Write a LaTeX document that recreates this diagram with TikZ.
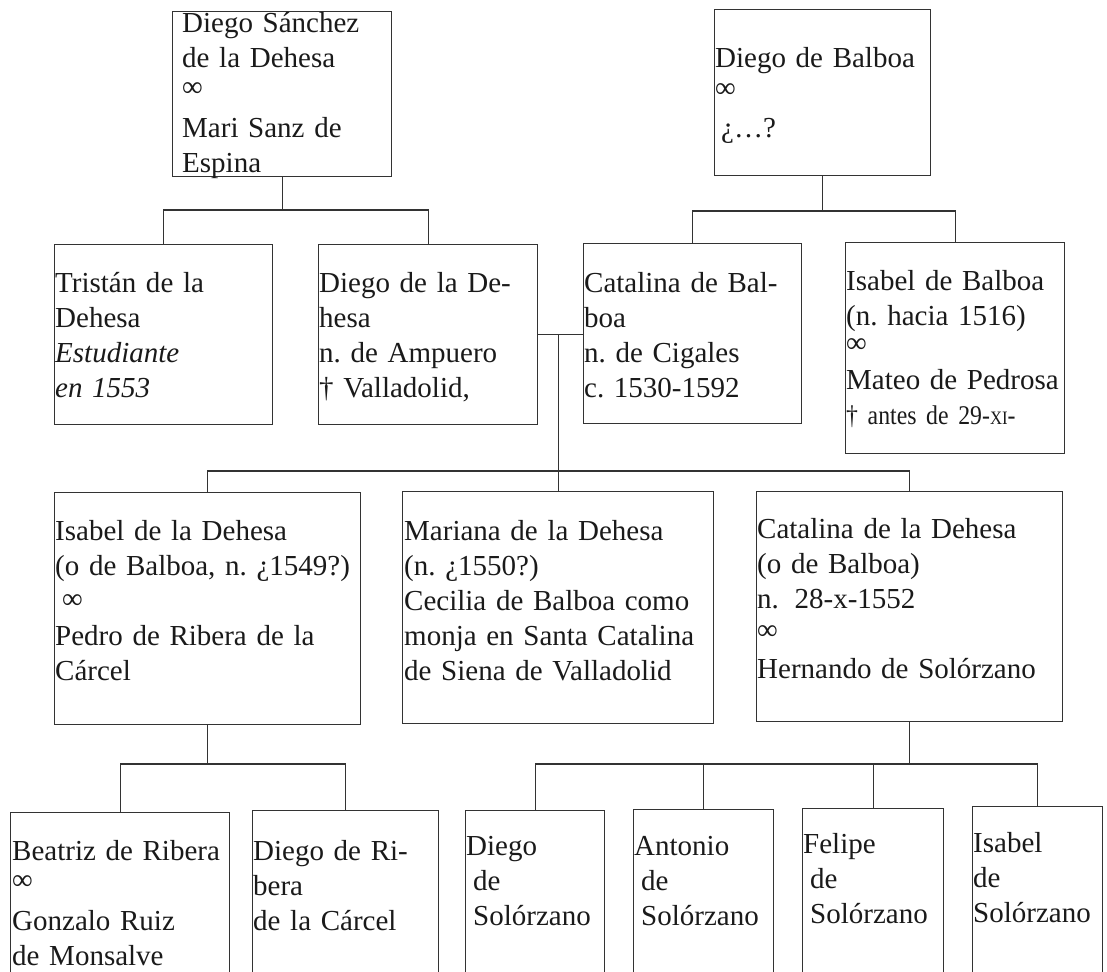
\documentclass[tikz,border=0pt]{standalone}
\usepackage{fontspec}
\setmainfont{Liberation Serif}
\newfontfamily\narrowfont[FakeStretch=0.88]{Liberation Serif}
\definecolor{linec}{HTML}{333333}
\definecolor{textc}{HTML}{1A1A1A}
\frenchspacing
\begin{document}
\begin{tikzpicture}[x=1pt,y=-1pt,
  box/.style={draw=linec, line width=1.1pt, rectangle, inner sep=0pt, anchor=north west},
  link/.style={draw=linec, line width=1.1pt},
  txt/.style={anchor=base west, inner sep=0pt, text width=320pt, align=left, text=textc,
              font=\fontsize{29}{35}\selectfont},
]
\useasboundingbox (0,0) rectangle (1107,971);
\fill[white] (0,0) rectangle (1107,971);
\clip (0,0) rectangle (1107,971);

% ---------- boxes ----------
\node[box, minimum width=219pt, minimum height=165pt] (A)    at (172,11)  {};
\node[box, minimum width=216pt, minimum height=166pt] (B)    at (714,9)   {};
\node[box, minimum width=218pt, minimum height=180pt] (tri)  at (54,244)  {};
\node[box, minimum width=219pt, minimum height=180pt] (dieD) at (318,244) {};
\node[box, minimum width=218pt, minimum height=180pt] (catB) at (583,243) {};
\node[box, minimum width=219pt, minimum height=211pt] (isaB) at (845,242) {};
\node[box, minimum width=306pt, minimum height=232pt] (isaD) at (54,492)  {};
\node[box, minimum width=311pt, minimum height=232pt] (mar)  at (402,491) {};
\node[box, minimum width=306pt, minimum height=230pt] (catD) at (756,491) {};
\node[box, minimum width=219pt, minimum height=250pt] (beat) at (10,812)  {};
\node[box, minimum width=186pt, minimum height=250pt] (dieR) at (252,810) {};
\node[box, minimum width=139pt, minimum height=250pt] (dS)   at (465,810) {};
\node[box, minimum width=140pt, minimum height=250pt] (aS)   at (633,809) {};
\node[box, minimum width=141pt, minimum height=250pt] (fS)   at (802,808) {};
\node[box, minimum width=130pt, minimum height=250pt] (iS)   at (972,806) {};

% ---------- texts ----------
\node[txt] (tA) at (182,33) {Diego Sánchez\\de la Dehesa\\[-6pt]∞\\[6pt]Mari Sanz de\\Espina};
\node[txt] (tB) at (715,68) {Diego de Balboa\\[-5pt]∞\\[5pt]\hspace*{6pt}¿…?};
\node[txt] (ttri) at (55,292) {Tristán de la\\Dehesa\\\itshape Estudiante\\\itshape en 1553};
\node[txt] (tdieD) at (319,292) {Diego de la De-\\hesa\\n. de Ampuero\\† Valladolid,};
\node[txt] (tcatB) at (584,292) {Catalina de Bal-\\boa\\n. de Cigales\\c. 1530-1592};
\node[txt] (tisaB) at (846,290) {Isabel de Balboa\\(n. hacia 1516)\\[-8pt]∞\\[2pt]Mateo de Pedrosa\\
  {\narrowfont\fontsize{27}{35}\selectfont † antes de 29-{\fontsize{19}{35}\selectfont XI}-}};
\node[txt] (tisaD) at (55,540) {Isabel de la Dehesa\\(o de Balboa, n. ¿1549?)\\[-2pt]\hspace*{7pt}∞\\[2pt]Pedro de Ribera de la\\Cárcel};
\node[txt] (tmar) at (404,540) {Mariana de la Dehesa\\(n. ¿1550?)\\Cecilia de Balboa como\\monja en Santa Catalina\\de Siena de Valladolid};
\node[txt] (tcatD) at (757,538) {Catalina de la Dehesa\\(o de Balboa)\\n.\hspace*{6pt} 28-x-1552\\[-4pt]∞\\[4pt]Hernando de Solórzano};
\node[txt] (tbeat) at (12,860) {Beatriz de Ribera\\[-6pt]∞\\[6pt]Gonzalo Ruiz\\de Monsalve};
\node[txt] (tdieR) at (253,860) {Diego de Ri-\\bera\\de la Cárcel};
\node[txt] (tdS) at (466,855) {Diego\\\hspace*{7pt}de\\\hspace*{7pt}Solórzano};
\node[txt] (taS) at (634,855) {Antonio\\\hspace*{7pt}de\\\hspace*{7pt}Solórzano};
\node[txt] (tfS) at (803,853) {Felipe\\\hspace*{7pt}de\\\hspace*{7pt}Solórzano};
\node[txt] (tiS) at (973,852) {Isabel\\de\\Solórzano};

% ---------- connectors ----------
% children of Diego Sánchez de la Dehesa
\coordinate (jA) at (282,210);
\draw[link] (A.south) -- (A.south |- jA);
\draw[link] (tri.north) |- (dieD.north |- jA) -- (dieD.north);
% children of Diego de Balboa
\coordinate (jB) at (822,211);
\draw[link] (B.south) -- (B.south |- jB);
\draw[link] (catB.north) |- (isaB.north |- jB) -- (isaB.north);
% marriage of Diego de la Dehesa and Catalina de Balboa
\draw[link] (dieD.east) -- (catB.west |- dieD.east);
\draw[link] (mar.north |- dieD.east) -- (mar.north);
% their children
\coordinate (j3) at (0,471);
\draw[link] (isaD.north) |- (catD.north |- j3) -- (catD.north);
% children of Isabel de la Dehesa
\coordinate (j4) at (0,764);
\draw[link] (isaD.south) -- (isaD.south |- j4);
\draw[link] (beat.north) |- (dieR.north |- j4) -- (dieR.north);
% children of Catalina de la Dehesa
\draw[link] (catD.south) -- (catD.south |- j4);
\draw[link] (dS.north) |- (iS.north |- j4) -- (iS.north);
\draw[link] (aS.north) -- (aS.north |- j4);
\draw[link] (fS.north) -- (fS.north |- j4);
\end{tikzpicture}
\end{document}
